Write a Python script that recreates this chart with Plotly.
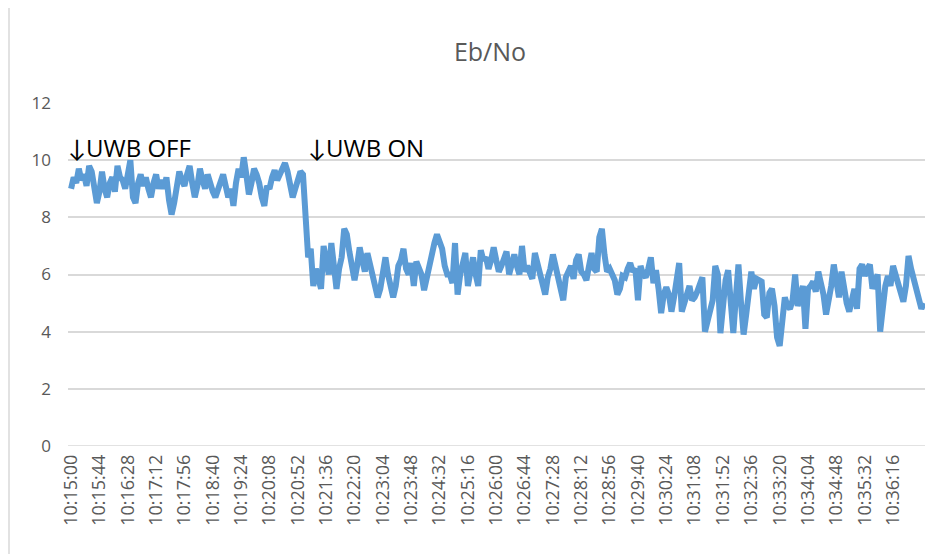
import plotly.graph_objects as go
from datetime import datetime, timedelta

# Eb/No samples every 4 seconds starting 10:15:00
start_time = "10:15:00"
sample_step_s = 4
ebno = [
    9.0, 9.4, 9.2, 9.7, 9.3, 9.5, 9.1, 9.8, 9.6, 9.0,
    8.5, 8.9, 9.6, 9.0, 8.7, 9.2, 9.4, 8.9, 9.8, 9.4,
    9.3, 9.0, 9.6, 10.0, 8.7, 8.5, 9.2, 9.5, 9.1, 9.4,
    9.0, 8.7, 9.2, 9.5, 9.0, 9.3, 9.0, 9.4, 8.6, 8.1,
    8.5, 9.0, 9.6, 9.3, 9.1, 9.5, 9.8, 9.2, 8.7, 9.1,
    9.7, 9.3, 9.0, 9.5, 9.1, 8.9, 8.7, 9.0, 9.2, 9.5,
    9.1, 8.7, 9.0, 8.4, 9.2, 9.7, 9.4, 10.1, 9.5, 8.8,
    9.2, 9.7, 9.5, 9.2, 8.7, 8.4, 9.1, 9.0, 9.4, 9.65,
    9.3, 9.5, 9.8, 9.9, 9.6, 9.2, 8.7, 9.0, 9.3, 9.6,
    9.5, 7.6, 6.6, 6.9, 5.6, 6.2, 5.9, 5.5, 7.0, 6.3,
    6.0, 7.1, 6.0, 5.5, 6.2, 6.6, 7.6, 7.4, 6.8, 6.4,
    5.8, 6.3, 6.95, 6.5, 6.1, 6.75, 6.4, 6.1, 5.6, 5.2,
    5.5, 6.0, 6.6, 6.0, 5.6, 5.2, 5.6, 6.3, 6.5, 6.9,
    6.2, 6.0, 6.4, 5.6, 6.45, 6.2, 6.0, 5.45, 5.9, 6.1,
    6.6, 7.1, 7.4, 7.2, 6.9, 6.3, 6.0, 6.0, 5.7, 7.1,
    5.3, 6.0, 6.3, 6.75, 5.6, 6.1, 6.6, 6.0, 5.6, 6.85,
    6.5, 6.6, 6.2, 6.5, 6.95, 6.5, 6.1, 6.3, 6.5, 6.8,
    6.0, 6.3, 6.7, 6.3, 6.0, 7.0, 6.1, 6.3, 6.1, 5.85,
    6.75, 6.4, 6.1, 5.85, 5.3, 5.9, 6.2, 6.7, 6.3, 6.0,
    5.4, 5.1, 5.9, 6.1, 6.3, 5.85, 6.5, 6.7, 6.1, 6.0,
    5.8, 6.3, 6.75, 6.2, 6.1, 7.3, 7.6, 6.7, 6.1, 6.2,
    6.0, 5.8, 5.3, 5.5, 5.95, 5.9, 6.2, 6.4, 6.1, 6.2,
    5.1, 6.3, 6.0, 5.9, 6.2, 6.6, 5.7, 6.15, 5.5, 4.65,
    5.3, 5.55, 5.3, 4.7, 5.2, 6.0, 6.4, 4.7, 5.0, 5.3,
    5.6, 5.1, 5.2, 5.4, 5.6, 5.9, 4.0, 4.4, 4.8, 5.1,
    6.3, 6.0, 3.95, 5.0, 5.8, 6.15, 4.8, 3.95, 5.2, 6.35,
    5.0, 3.9, 4.6, 5.5, 6.1, 5.5, 5.85, 5.8, 5.75, 4.6,
    4.5, 5.35, 5.5, 4.9, 3.8, 3.5, 4.5, 5.2, 4.9, 4.8,
    5.1, 6.0, 4.9, 5.3, 5.6, 4.1, 5.5, 5.6, 5.75, 5.4,
    6.1, 5.7, 5.3, 4.6, 5.0, 5.6, 6.35, 5.8, 5.2, 6.1,
    5.5, 5.0, 4.7, 5.2, 5.5, 4.8, 6.2, 6.35, 5.95, 6.2,
    6.35, 5.5, 5.8, 6.0, 4.0, 4.9, 5.6, 5.95, 5.6, 6.3,
    6.0, 5.75, 5.4, 5.05, 5.6, 6.65, 6.2, 5.85, 5.5, 5.2,
    4.8, 5.0,
]
tick_every = 11
n_tick_labels = 30
title_text = "Eb/No"
note_off = "↓UWB OFF"
note_on = "↓UWB ON"
y_ticks = [0, 2, 4, 6, 8, 10, 12]

t0 = datetime.strptime(start_time, "%H:%M:%S")
times = [(t0 + timedelta(seconds=sample_step_s * i)).strftime("%H:%M:%S") for i in range(len(ebno))]
tick_labels = times[::tick_every][:n_tick_labels]

grey_txt = "#595959"
grid = "#d9d9d9"
font_fam = "Open Sans, Lato, sans-serif"

# page body offset (~8px) compensation
off = 8
L, R, T, B = 68, 925, 103, 446
W, H = 941, 554
pw, ph = R - L, B - T

fig = go.Figure()
fig.add_trace(go.Scatter(
    x=times, y=ebno, mode="lines",
    line=dict(color="#5b9bd5", width=6),
    showlegend=False, hoverinfo="x+y",
))

n = len(times)
fig.update_layout(
    width=W, height=H,
    margin=dict(l=L - off, r=W - R + off, t=T - off, b=H - B + off),
    paper_bgcolor="white", plot_bgcolor="white",
    font=dict(family=font_fam, color=grey_txt),
    title=dict(text=title_text, x=(490 - off) / W, xanchor="center",
               y=1 - (52 - off) / H, yanchor="middle",
               font=dict(size=25, color=grey_txt, family=font_fam)),
    xaxis=dict(
        type="category", range=[-1.2, n - 0.6],
        tickvals=tick_labels, ticktext=tick_labels,
        tickangle=-90, tickfont=dict(size=18, color=grey_txt),
        showgrid=False, zeroline=False, showline=False, ticks="",
        ticklabelstandoff=4,
    ),
    yaxis=dict(
        range=[0, 12], tickvals=y_ticks, tickfont=dict(size=17, color=grey_txt),
        showgrid=True, gridcolor=grid, gridwidth=1.5, zeroline=False,
        showline=False, ticks="", ticklabelstandoff=16,
    ),
    annotations=[
        dict(text=note_off, xref="paper", yref="y", x=(66 - L) / pw, y=10.46,
             xanchor="left", yanchor="middle", showarrow=False,
             font=dict(size=24, color="black", family=font_fam)),
        dict(text=note_on, xref="paper", yref="y", x=(306 - L) / pw, y=10.46,
             xanchor="left", yanchor="middle", showarrow=False,
             font=dict(size=24, color="black", family=font_fam)),
    ],
    shapes=[
        dict(type="line", xref="paper", yref="y", x0=0, x1=1, y0=0, y1=0,
             line=dict(color=grid, width=1.5), layer="below"),
        dict(type="rect", xref="paper", yref="paper",
             x0=(9 - L) / pw, x1=(936 - L) / pw,
             y0=(B - 560) / ph, y1=(B - 4) / ph,
             line=dict(color=grid, width=1.5), fillcolor="rgba(0,0,0,0)", layer="below"),
    ],
)

fig.write_html("out.html")
